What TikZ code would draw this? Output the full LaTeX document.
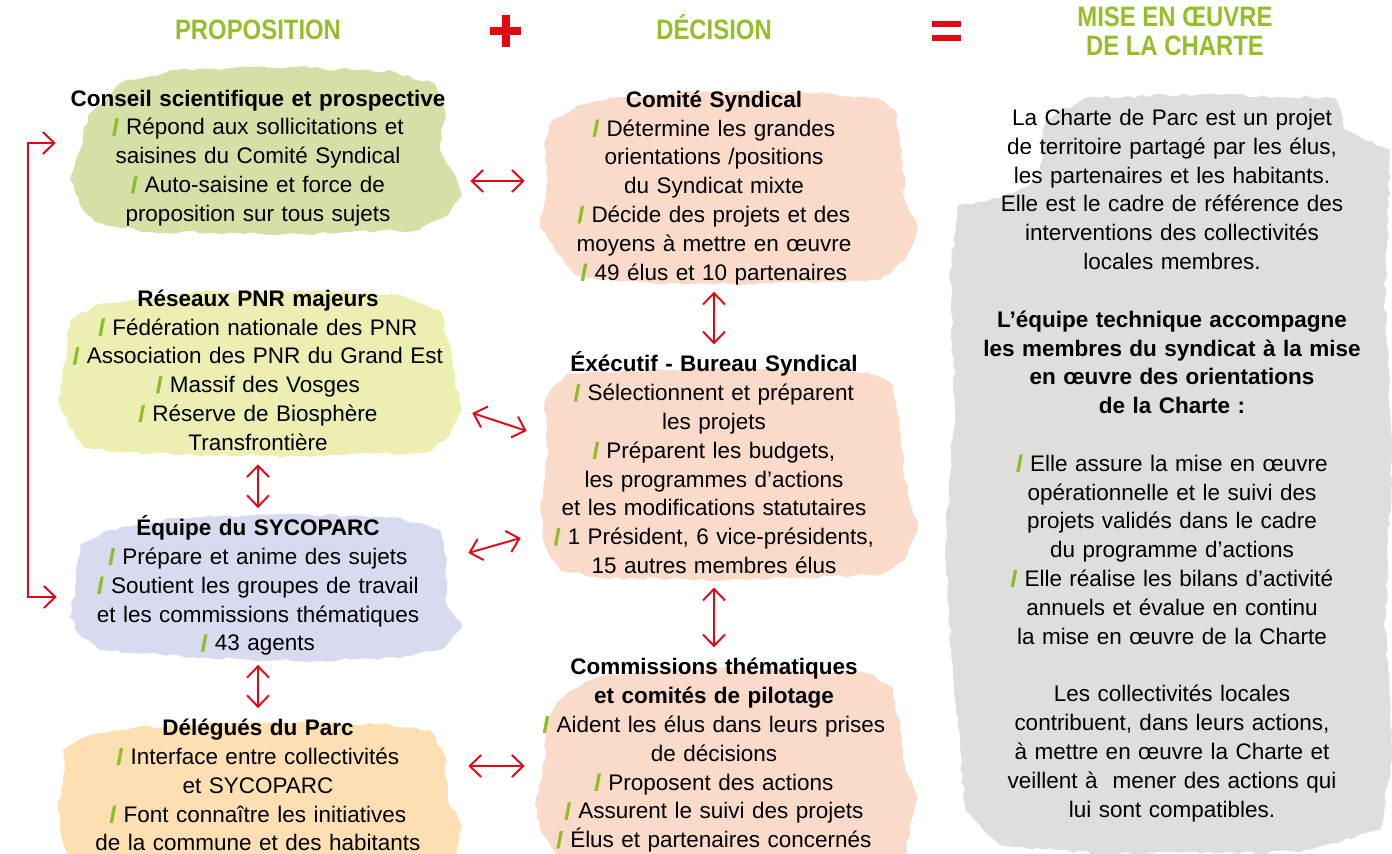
\documentclass[tikz,border=0pt]{standalone}
\usepackage{fontspec}
\setmainfont{Liberation Sans}
\newfontfamily\headfont[FakeStretch=0.85]{Liberation Sans}
\newfontfamily\slashfont[FakeBold=2.5]{Liberation Sans}
\usetikzlibrary{arrows.meta,decorations.pathmorphing}
\definecolor{titlegreen}{RGB}{149,190,41}
\definecolor{slashgreen}{RGB}{141,190,40}
\definecolor{plusred}{RGB}{227,6,19}
\definecolor{bgconseil}{RGB}{213,224,167}
\definecolor{bgreseaux}{RGB}{237,239,178}
\definecolor{bgequipe}{RGB}{216,218,239}
\definecolor{bgdelegues}{RGB}{253,223,178}
\definecolor{bgdecision}{RGB}{250,218,200}
\definecolor{bgcharte}{RGB}{222,222,221}
\tikzset{
  brushed/.style={decorate, decoration={random steps, segment length=4pt, amplitude=1pt}},
  bloc/.style={inner sep=0pt, align=center, font=\fontsize{12.8}{16.4}\selectfont,
    execute at begin node=\strut, execute at end node=\strut},
  titre/.style={text=titlegreen, align=center, font=\headfont\bfseries\fontsize{16}{16.4}\selectfont},
  liaison/.style={draw=plusred, line width=1.1pt,
    {Straight Barb[length=6.5pt,width=12.5pt]}-{Straight Barb[length=6.5pt,width=12.5pt]}}
}
\newcommand{\brush}[2]{
  \fill[#1, brushed] #2 -- cycle;
}
\newcommand{\puce}{{\slashfont\bfseries\color{slashgreen}/}\ }

\begin{document}
\begin{tikzpicture}[x=0.02cm, y=-0.02cm]
\pgfmathsetseed{7}
\useasboundingbox (0,0) rectangle (1392,854);
% fonds
\brush{bgconseil}{(143,78) -- (178,70) -- (290,67) -- (395,72) -- (435,84) -- (445,110) -- (440,150) -- (455,175) -- (462,195) -- (448,215) -- (420,230) -- (300,234) -- (150,232) -- (95,222) -- (80,205) -- (70,180) -- (80,150) -- (88,115) -- (110,95) -- (120,83)}
\brush{bgreseaux}{(133,300) -- (200,292) -- (330,291) -- (400,295) -- (440,310) -- (448,340) -- (455,380) -- (462,410) -- (450,435) -- (430,452) -- (300,456) -- (150,454) -- (85,448) -- (68,425) -- (58,400) -- (66,360) -- (70,320) -- (95,305)}
\brush{bgequipe}{(180,518) -- (300,514) -- (400,518) -- (440,530) -- (447,560) -- (445,600) -- (462,627) -- (440,650) -- (400,658) -- (300,661) -- (200,658) -- (100,650) -- (80,635) -- (70,617) -- (76,580) -- (80,545) -- (110,530)}
\brush{bgdelegues}{(133,728) -- (250,722) -- (380,724) -- (430,730) -- (445,755) -- (448,800) -- (462,827) -- (455,858) -- (70,858) -- (60,830) -- (58,810) -- (65,770) -- (63,750) -- (90,735)}
\brush{bgdecision}{(610,98) -- (700,92) -- (800,92) -- (877,98) -- (895,110) -- (902,150) -- (905,200) -- (918,228) -- (905,260) -- (880,280) -- (750,284) -- (620,282) -- (575,275) -- (555,250) -- (540,228) -- (548,180) -- (545,140) -- (552,120) -- (580,105)}
\brush{bgdecision}{(567,374) -- (700,368) -- (867,372) -- (893,385) -- (900,420) -- (905,480) -- (918,528) -- (905,560) -- (880,575) -- (750,580) -- (600,578) -- (560,570) -- (545,545) -- (540,510) -- (548,450) -- (545,400) -- (555,385)}
\brush{bgdecision}{(610,674) -- (720,668) -- (867,673) -- (893,688) -- (900,730) -- (905,770) -- (918,797) -- (910,830) -- (905,858) -- (560,858) -- (540,830) -- (535,805) -- (545,760) -- (547,722) -- (560,700) -- (585,682)}
\brush{bgcharte}{(1085,98) -- (1200,94) -- (1335,98) -- (1345,130) -- (1390,150) -- (1385,300) -- (1392,460) -- (1385,620) -- (1392,760) -- (1380,830) -- (1300,852) -- (1100,854) -- (1000,845) -- (965,810) -- (955,700) -- (945,550) -- (955,400) -- (950,280) -- (958,205) -- (1000,198) -- (1040,180) -- (1045,120)}
% titres
\node[titre, anchor=base] (propo) at (258,40) {PROPOSITION};
\node[titre, anchor=base] (deci) at (714,40) {DÉCISION};
\node[titre] (mise) at (1175,31) {MISE EN ŒUVRE\\DE LA CHARTE};
\draw[plusred, line width=0.16cm] (490,31) -- (521,31) (505.5,15) -- (505.5,47);
\draw[plusred, line width=0.12cm] (932,24) -- (961,24) (932,38) -- (961,38);
% proposition
\node[bloc, text width=7.84cm] (conseil) at (258,158) {\textbf{Conseil scientifique et prospective}\\
  \puce Répond aux sollicitations et\\ saisines du Comité Syndical\\
  \puce Auto-saisine et force de\\ proposition sur tous sujets};
\node[bloc, text width=7.84cm] (reseaux) at (258,372.5) {\textbf{Réseaux PNR majeurs}\\
  \puce Fédération nationale des PNR\\ \puce Association des PNR du Grand Est\\
  \puce Massif des Vosges\\ \puce Réserve de Biosphère\\ Transfrontière};
\node[bloc, text width=7.84cm] (equipe) at (258,587.5) {\textbf{Équipe du SYCOPARC}\\
  \puce Prépare et anime des sujets\\ \puce Soutient les groupes de travail\\
  et les commissions thématiques\\ \puce 43 agents};
\node[bloc, text width=7.84cm] (delegues) at (258,787.5) {\textbf{Délégués du Parc}\\
  \puce Interface entre collectivités\\ et SYCOPARC\\
  \puce Font connaître les initiatives\\ de la commune et des habitants};
% decision
\node[bloc, text width=7.6cm] (comite) at (714,188) {\textbf{Comité Syndical}\\
  \puce Détermine les grandes\\ orientations /positions\\ du Syndicat mixte\\
  \puce Décide des projets et des\\ moyens à mettre en œuvre\\ \puce 49 élus et 10 partenaires};
\node[bloc, text width=7.6cm] (executif) at (714,467) {\textbf{Éxécutif - Bureau Syndical}\\
  \puce Sélectionnent et préparent\\ les projets\\ \puce Préparent les budgets,\\
  les programmes d'actions\\ et les modifications statutaires\\
  \puce 1 Président, 6 vice-présidents,\\ 15 autres membres élus};
\node[bloc, text width=7.6cm] (commissions) at (714,755.5) {\textbf{Commissions thématiques}\\
  \textbf{et comités de pilotage}\\ \puce Aident les élus dans leurs prises\\ de décisions\\
  \puce Proposent des actions\\ \puce Assurent le suivi des projets\\ \puce Élus et partenaires concernés};
% mise en oeuvre
\node[bloc, text width=8.8cm] (charte) at (1172,465.5) {La Charte de Parc est un projet\\
  de territoire partagé par les élus,\\ les partenaires et les habitants.\\
  Elle est le cadre de référence des\\ interventions des collectivités\\ locales membres.\\[16.4pt]
  \textbf{L’équipe technique accompagne}\\ \textbf{les membres du syndicat à la mise}\\
  \textbf{en œuvre des orientations}\\ \textbf{de la Charte :}\\[16.4pt]
  \puce Elle assure la mise en œuvre\\ opérationnelle et le suivi des\\
  projets validés dans le cadre\\ du programme d'actions\\
  \puce Elle réalise les bilans d'activité\\ annuels et évalue en continu\\
  la mise en œuvre de la Charte\\[16.4pt]
  Les collectivités locales\\ contribuent, dans leurs actions,\\ à mettre en œuvre la Charte et\\
  veillent à~ mener des actions qui\\ lui sont compatibles.};
% liaisons
\draw[liaison] ([shift={(16,23)}]conseil.east) -- ([shift={(1,-7)}]comite.west);
\draw[liaison] ([shift={(18,40.5)}]reseaux.east) -- ([shift={(3,-36)}]executif.west);
\draw[liaison] ([shift={(14,-34.5)}]equipe.east) -- ([shift={(-3,71)}]executif.west);
\draw[liaison] ([shift={(14,-21.5)}]delegues.east) -- ([shift={(1,10.5)}]commissions.west);
\draw[liaison, shorten <=0.1cm, shorten >=0.14cm] (reseaux) -- (equipe);
\draw[liaison, shorten <=0.1cm, shorten >=0.14cm] (equipe) -- (delegues);
\draw[liaison, shorten <=0.05cm, shorten >=0.14cm] (comite) -- (executif);
\draw[liaison, shorten <=0.1cm, shorten >=0.14cm] (executif) -- (commissions);
\draw[liaison] ([shift={(-6,-15)}]conseil.west) -- ++(-28,0) |- ([shift={(-5,9.5)}]equipe.west);
\end{tikzpicture}
\end{document}
